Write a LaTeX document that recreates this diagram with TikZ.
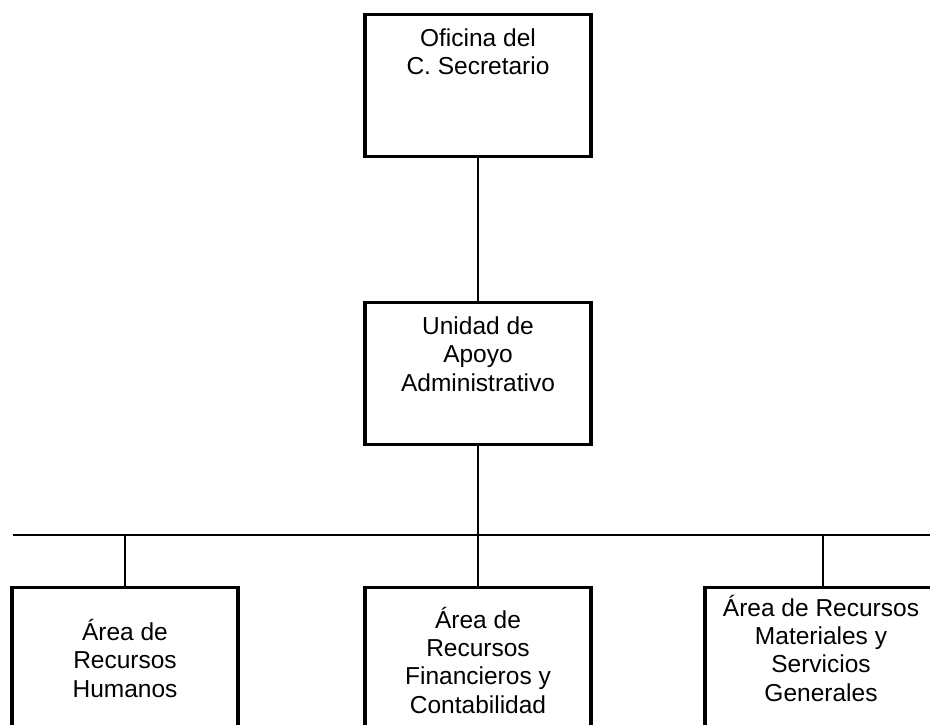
\documentclass[tikz,border=0pt]{standalone}
\usepackage{fontspec}
\setmainfont{Liberation Sans}
\usetikzlibrary{positioning}

\tikzset{
  unit/.style={draw, line width=3.2pt, minimum width=226pt, minimum height=142pt, inner sep=0pt, anchor=north},
  lowunit/.style={unit, minimum height=200pt},
  unittext/.style={align=center, inner sep=0pt, anchor=base, font=\fontsize{24.5}{28.3}\selectfont},
  link/.style={line width=1.1pt}
}

\begin{document}
\begin{tikzpicture}[x=1pt,y=-1pt]
\useasboundingbox (0,0) rectangle (930,725);
\clip (0,0) rectangle (930,725);
% boxes
\node[unit] (ofi) at (478,12.7) {};
\node[unit] (uaa) at (478,300.7) {};
\node[lowunit] (arh) at (125,585.7) {};
\node[lowunit] (arf) at (478,585.7) {};
\node[lowunit, minimum width=236pt] (arm) at (823,585.7) {};
% texts (base = last line)
\node[unittext] (ofit) at (478,75) {Oficina del\\C. Secretario};
\node[unittext] (uaat) at (478,391) {Unidad de\\Apoyo\\Administrativo};
\node[unittext] (arht) at (125,697) {Área de\\Recursos\\Humanos};
\node[unittext] (arft) at (478,713) {Área de\\Recursos\\Financieros y\\Contabilidad};
\node[unittext] (armt) at (821,701) {Área de Recursos\\Materiales y\\Servicios\\Generales};
% lines
\coordinate (bus) at (478,535);
\coordinate (busL) at (13,535);
\coordinate (busR) at (930,535);
\draw[link] (ofi.south) -- (uaa.north);
\draw[link] (uaa.south) -- (bus);
\draw[link] (busL) -- (busR);
\draw[link] (arh.north) -- (arh.north |- bus);
\draw[link] (arf.north) -- (bus);
\draw[link] (arm.north) -- (arm.north |- bus);
\end{tikzpicture}
\end{document}
